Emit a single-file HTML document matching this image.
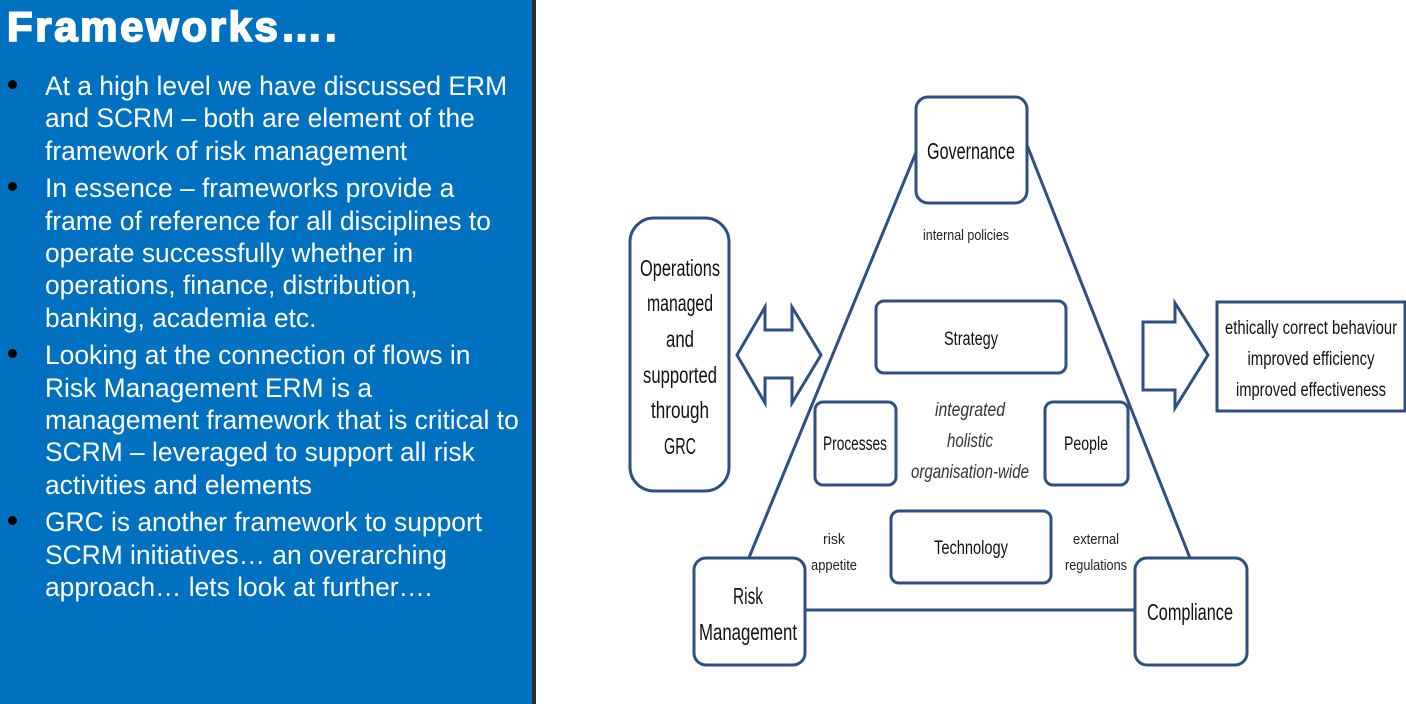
<!DOCTYPE html>
<html><head><meta charset="utf-8"><style>
html,body{margin:0;padding:0;width:1406px;height:704px;overflow:hidden;background:#fff}
#left{position:absolute;left:0;top:0;width:532px;height:704px;background:#0070c0;color:#fff;font-family:"Liberation Sans",Arial,sans-serif}
#bar{position:absolute;left:532px;top:0;width:4px;height:704px;background:#2b2b2b}
h1{position:absolute;left:7px;top:3px;margin:0;font-size:42px;font-weight:900;letter-spacing:2.6px;-webkit-text-stroke:1.8px #fff;white-space:nowrap}
ul{position:absolute;left:0;top:70px;margin:0;padding:0;list-style:none;font-size:26.4px;line-height:32.4px}
li{position:relative;padding-left:45px;white-space:nowrap;margin-bottom:5px}
li:before{content:"";position:absolute;left:8px;top:10px;width:9px;height:9px;border-radius:50%;background:#000}
svg{position:absolute;left:0;top:0}
</style></head><body>
<div id="left">
<h1>Frameworks….</h1>
<ul>
<li>At a high level we have discussed ERM<br>and SCRM – both are element of the<br>framework of risk management</li>
<li>In essence – frameworks provide a<br>frame of reference for all disciplines to<br>operate successfully whether in<br>operations, finance, distribution,<br>banking, academia etc.</li>
<li>Looking at the connection of flows in<br>Risk Management ERM is a<br>management framework that is critical to<br>SCRM – leveraged to support all risk<br>activities and elements</li>
<li>GRC is another framework to support<br>SCRM initiatives… an overarching<br>approach… lets look at further….</li>
</ul>
</div>
<div id="bar"></div>
<svg width="1406" height="704" font-family="'Liberation Sans',Arial,sans-serif" fill="#111">
<g stroke="#2f4f80" stroke-width="3" fill="none">
<line x1="917" y1="150" x2="748" y2="560"/>
<line x1="1027" y1="145" x2="1190" y2="558"/>
<line x1="805" y1="610" x2="1135" y2="610"/>
</g>
<g stroke="#2f4f80" stroke-width="3" fill="#fff">
<rect x="916" y="97" width="111" height="106" rx="12"/>
<rect x="630" y="218" width="99" height="273" rx="24"/>
<rect x="876" y="301" width="190" height="72" rx="8"/>
<rect x="815" y="402" width="81" height="83" rx="8"/>
<rect x="1045" y="402" width="83" height="83" rx="8"/>
<rect x="891" y="511" width="160" height="72" rx="8"/>
<rect x="694" y="558" width="111" height="107" rx="12"/>
<rect x="1135" y="558" width="112" height="107" rx="12"/>
<rect x="1217" y="302" width="188" height="109" rx="0"/>
<polygon points="737,355 765,307 765,330 792,330 792,307 821,355 792,403 792,378 765,378 765,403"/>
<polygon points="1143,322 1175,322 1175,303 1208,355 1175,408 1175,390 1143,390"/>
</g>
<g font-size="23" text-anchor="middle">
<text x="971" y="159" textLength="88" lengthAdjust="spacingAndGlyphs">Governance</text>
<text x="680" y="276" textLength="80" lengthAdjust="spacingAndGlyphs">Operations</text>
<text x="680" y="311" textLength="66" lengthAdjust="spacingAndGlyphs">managed</text>
<text x="680" y="347" textLength="28" lengthAdjust="spacingAndGlyphs">and</text>
<text x="680" y="383" textLength="74" lengthAdjust="spacingAndGlyphs">supported</text>
<text x="680" y="418" textLength="58" lengthAdjust="spacingAndGlyphs">through</text>
<text x="680" y="454" textLength="32" lengthAdjust="spacingAndGlyphs">GRC</text>
<text x="748" y="604" textLength="30" lengthAdjust="spacingAndGlyphs">Risk</text>
<text x="748" y="640" textLength="98" lengthAdjust="spacingAndGlyphs">Management</text>
<text x="1190" y="620" textLength="86" lengthAdjust="spacingAndGlyphs">Compliance</text>
</g>
<g font-size="19" text-anchor="middle">
<text x="971" y="345" textLength="54" lengthAdjust="spacingAndGlyphs">Strategy</text>
<text x="855" y="450" textLength="64" lengthAdjust="spacingAndGlyphs">Processes</text>
<text x="1086" y="450" textLength="44" lengthAdjust="spacingAndGlyphs">People</text>
<text x="971" y="554" textLength="74" lengthAdjust="spacingAndGlyphs">Technology</text>
<text x="1311" y="334" textLength="172" lengthAdjust="spacingAndGlyphs">ethically correct behaviour</text>
<text x="1311" y="365" textLength="127" lengthAdjust="spacingAndGlyphs">improved efficiency</text>
<text x="1311" y="396" textLength="150" lengthAdjust="spacingAndGlyphs">improved effectiveness</text>
</g>
<g font-size="19" font-style="italic" text-anchor="middle" fill="#333">
<text x="970" y="416" textLength="70" lengthAdjust="spacingAndGlyphs">integrated</text>
<text x="970" y="447" textLength="46" lengthAdjust="spacingAndGlyphs">holistic</text>
<text x="970" y="478" textLength="118" lengthAdjust="spacingAndGlyphs">organisation-wide</text>
</g>
<g font-size="15" text-anchor="middle" fill="#222">
<text x="966" y="240" textLength="86" lengthAdjust="spacingAndGlyphs">internal policies</text>
<text x="834" y="544" textLength="22" lengthAdjust="spacingAndGlyphs">risk</text>
<text x="834" y="570" textLength="46" lengthAdjust="spacingAndGlyphs">appetite</text>
<text x="1096" y="544" textLength="46" lengthAdjust="spacingAndGlyphs">external</text>
<text x="1096" y="570" textLength="62" lengthAdjust="spacingAndGlyphs">regulations</text>
</g>
</svg>
</body></html>
